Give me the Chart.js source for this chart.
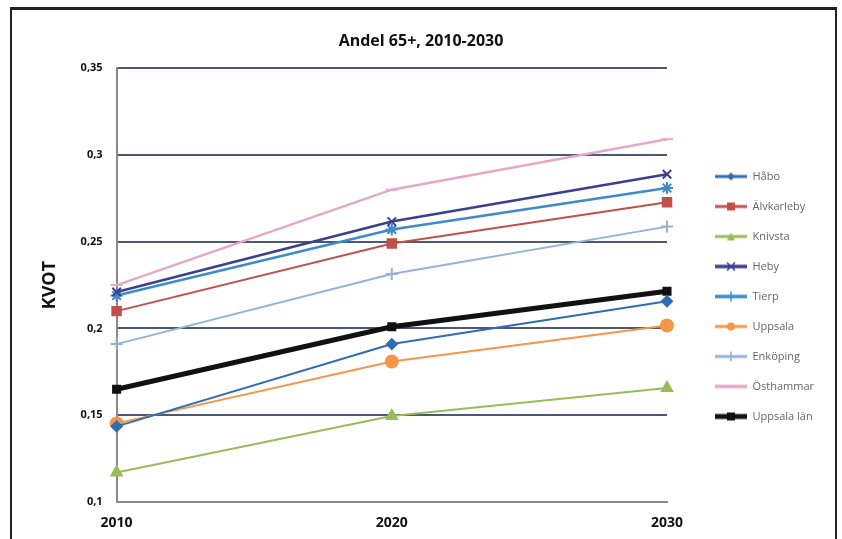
<!DOCTYPE html>
<html lang="sv">
<head>
<meta charset="utf-8">
<title>Andel 65+, 2010-2030</title>
<script src="https://cdn.jsdelivr.net/npm/chart.js@4/dist/chart.umd.min.js"></script>
<style>
	html, body { margin: 0; padding: 0; background: #fff; }
	#wrap { position: relative; width: 842px; height: 539px; overflow: hidden; }
	#frame {
		position: absolute; left: 10px; top: 7px; width: 823px; height: 540px;
		border: 2px solid #222; border-top-width: 3px; pointer-events: none;
	}
	canvas { position: absolute; left: 0; top: 0; }
</style>
</head>
<body>
<div id="wrap">
	<canvas id="chart" width="842" height="539"></canvas>
	<div id="frame"></div>
</div>
<script>
const YEARS = ["2010", "2020", "2030"];
const SERIES = ["Håbo", "Älvkarleby", "Knivsta", "Heby", "Tierp", "Uppsala", "Enköping", "Östhammar", "Uppsala län"];

const HABO = [0.1436, 0.191, 0.2157];
const ALVKARLEBY = [0.210, 0.249, 0.2727];
const KNIVSTA = [0.117, 0.1495, 0.1657];
const HEBY = [0.221, 0.2616, 0.2889];
const TIERP = [0.219, 0.257, 0.281];
const UPPSALA = [0.1453, 0.181, 0.2017];
const ENKOPING = [0.191, 0.2314, 0.2587];
const OSTHAMMAR = [0.225, 0.280, 0.309];
const UPPSALA_LAN = [0.165, 0.201, 0.2215];

const VALUES = [HABO, ALVKARLEBY, KNIVSTA, HEBY, TIERP, UPPSALA, ENKOPING, OSTHAMMAR, UPPSALA_LAN];

const STYLES = [
	{ color: "#2e6db4", point: "rectRot", radius: 5, width: 2 },
	{ color: "#c0504d", point: "rect", radius: 6, width: 2 },
	{ color: "#9bbb59", point: "triangle", radius: 6, width: 2 },
	{ color: "#3b3f8f", point: "crossRot", radius: 6, width: 2.5 },
	{ color: "#3d8bcb", point: "star", radius: 6, width: 2.5 },
	{ color: "#f79646", point: "circle", radius: 6, width: 2 },
	{ color: "#95b3d7", point: "cross", radius: 6, width: 2 },
	{ color: "#e4a9c8", point: "line", radius: 6, width: 2.5 },
	{ color: "#111111", point: "rect", radius: 5, width: 5 },
];

// legend swatch: blank indent, then a short line with the marker in the middle
const INDENT = 29;
const LINE_W = 32;
const SWATCH_W = INDENT + LINE_W;

function swatch(style) {
	const c = document.createElement("canvas");
	c.width = SWATCH_W;
	c.height = 14;
	const ctx = c.getContext("2d");
	const m = INDENT + LINE_W / 2;
	ctx.strokeStyle = style.color;
	ctx.fillStyle = style.color;
	ctx.lineWidth = Math.min(style.width + 1, 5);
	ctx.beginPath();
	ctx.moveTo(INDENT, 7);
	ctx.lineTo(SWATCH_W, 7);
	ctx.stroke();
	ctx.lineWidth = 1.5;
	const r = 4;
	ctx.beginPath();
	switch (style.point) {
		case "rectRot":
			ctx.moveTo(m, 7 - r); ctx.lineTo(m + r, 7); ctx.lineTo(m, 7 + r); ctx.lineTo(m - r, 7);
			ctx.closePath(); ctx.fill(); break;
		case "rect":
			ctx.rect(m - r, 7 - r, 2 * r, 2 * r); ctx.fill(); break;
		case "triangle":
			ctx.moveTo(m, 7 - r); ctx.lineTo(m + r, 7 + r); ctx.lineTo(m - r, 7 + r);
			ctx.closePath(); ctx.fill(); break;
		case "circle":
			ctx.arc(m, 7, r, 0, Math.PI * 2); ctx.fill(); break;
		case "crossRot":
			ctx.moveTo(m - r, 7 - r); ctx.lineTo(m + r, 7 + r);
			ctx.moveTo(m + r, 7 - r); ctx.lineTo(m - r, 7 + r); ctx.stroke(); break;
		case "star":
		case "cross":
			ctx.moveTo(m, 7 - r - 1); ctx.lineTo(m, 7 + r + 1); ctx.stroke(); break;
	}
	return c;
}

const datasets = SERIES.map((name, i) => ({
	label: name,
	data: VALUES[i],
	borderColor: STYLES[i].color,
	backgroundColor: STYLES[i].color,
	borderWidth: STYLES[i].width,
	pointStyle: STYLES[i].point,
	pointRadius: STYLES[i].radius,
	pointBorderWidth: 2,
	tension: 0,
}));

new Chart(document.getElementById("chart"), {
	type: "line",
	data: { labels: YEARS, datasets },
	options: {
		responsive: false,
		animation: false,
		layout: { padding: { left: 0, right: 0, top: 14, bottom: 0 } },
		scales: {
			x: {
				offset: false,
				grid: { display: false, drawTicks: false },
				border: { color: "#8a8a8a", width: 2 },
				ticks: { color: "#111", padding: 13, font: { family: "Open Sans", size: 14, weight: "bold" } },
				afterFit: (scale) => {
					scale.paddingRight = 175; // gap between plot and legend
					scale.height = 37;
				},
			},
			y: {
				min: 0.1,
				max: 0.35,
				grid: { color: "#4c5878", lineWidth: 2, drawTicks: false },
				border: { color: "#8a8a8a", width: 2 },
				ticks: {
					stepSize: 0.05,
					padding: 14,
					color: "#111",
					font: { family: "Open Sans", size: 11, weight: "bold" },
					callback: (v) => String(Math.round(v * 100) / 100).replace(".", ","),
				},
				title: {
					display: true,
					text: "KVOT",
					color: "#111",
					padding: { top: 39, bottom: 6 },
					font: { family: "Open Sans", size: 18, weight: "bold" },
				},
			},
		},
		plugins: {
			title: {
				display: true,
				text: "Andel 65+, 2010-2030",
				color: "#111",
				padding: { top: 18, bottom: 17 },
				font: { family: "Open Sans", size: 16, weight: "bold" },
			},
			legend: {
				position: "right",
				// empty title only pushes the items down a little
				title: { display: true, text: " ", padding: 14, font: { size: 10 } },
				labels: {
					usePointStyle: true,
					pointStyleWidth: SWATCH_W,
					padding: 19,
					color: "#222",
					font: { family: "Open Sans", size: 11 },
					generateLabels: (chart) =>
						chart.data.datasets.map((ds, i) => ({
							text: ds.label,
							pointStyle: swatch(STYLES[i]),
							fillStyle: ds.borderColor,
							strokeStyle: ds.borderColor,
							lineWidth: 0,
							datasetIndex: i,
							hidden: false,
						})),
				},
			},
			tooltip: { enabled: false },
		},
	},
});
</script>
</body>
</html>
